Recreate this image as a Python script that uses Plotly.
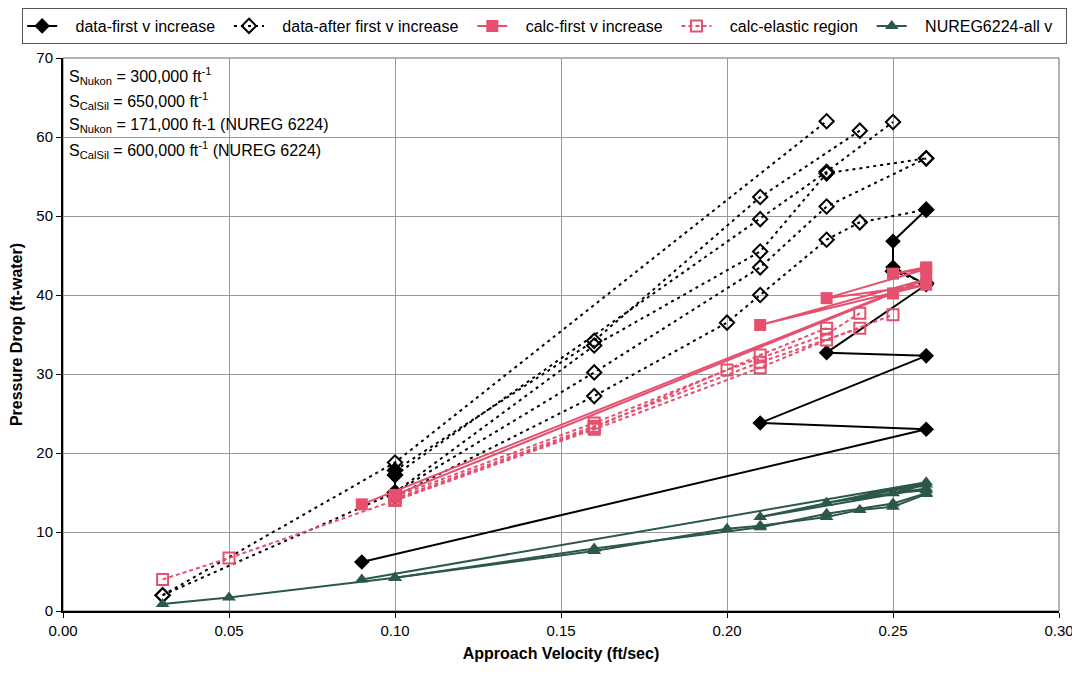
import plotly.graph_objects as go

# ---- data ----
# each series is a list of polylines (x list, y list)
first_x = [[0.09, 0.26, 0.21, 0.26, 0.23, 0.26, 0.25, 0.25, 0.26],
           [0.10, 0.10, 0.10]]
first_y = [[6.2, 23.0, 23.8, 32.3, 32.7, 41.3, 43.5, 46.8, 50.8],
           [15.0, 17.2, 17.8]]

after_x = [[0.03, 0.10, 0.23],
           [0.10, 0.16, 0.21, 0.24],
           [0.10, 0.21, 0.23, 0.25],
           [0.10, 0.16, 0.21, 0.23, 0.26],
           [0.03, 0.10, 0.16, 0.21, 0.23, 0.26],
           [0.10, 0.16, 0.20, 0.21, 0.23, 0.24, 0.26],
           [0.25, 0.26]]
after_y = [[2.0, 18.8, 62.0],
           [17.8, 34.2, 52.4, 60.8],
           [17.2, 49.6, 55.6, 61.9],
           [15.0, 33.6, 45.5, 55.4, 57.3],
           [2.0, 15.0, 30.2, 43.5, 51.2, 57.3],
           [14.5, 27.2, 36.5, 40.0, 47.0, 49.2, 50.8],
           [43.0, 41.5]]

calc_x = [[0.09, 0.26, 0.21, 0.26, 0.23, 0.26, 0.25, 0.26],
          [0.10, 0.25]]
calc_y = [[13.5, 42.0, 36.2, 41.3, 39.6, 43.3, 42.7, 43.5],
          [14.7, 40.2]]

elastic_x = [[0.03, 0.05, 0.10, 0.16, 0.21, 0.23, 0.25],
             [0.10, 0.16, 0.21, 0.24],
             [0.10, 0.16, 0.20, 0.23, 0.24],
             [0.10, 0.16, 0.21, 0.23]]
elastic_y = [[4.0, 6.7, 14.0, 23.0, 30.8, 34.3, 37.5],
             [14.2, 23.4, 31.5, 35.8],
             [14.5, 23.8, 30.5, 35.0, 37.7],
             [14.0, 23.2, 32.4, 35.8]]

nureg_x = [[0.09, 0.26, 0.21, 0.26, 0.23, 0.26, 0.25, 0.26],
           [0.03, 0.05, 0.10, 0.16, 0.20, 0.21, 0.23, 0.24, 0.25, 0.26],
           [0.10, 0.16, 0.21, 0.23, 0.25, 0.26]]
nureg_y = [[4.0, 16.3, 11.9, 15.5, 13.7, 16.0, 14.9, 15.3],
           [0.9, 1.7, 4.2, 7.6, 10.4, 10.8, 11.9, 12.8, 13.2, 14.8],
           [4.2, 7.9, 10.6, 12.3, 13.6, 14.9]]

notes = [
    "S<sub>Nukon</sub> = 300,000 ft<sup>-1</sup>",
    "S<sub>CalSil</sub> = 650,000 ft<sup>-1</sup>",
    "S<sub>Nukon</sub> = 171,000 ft-1 (NUREG 6224)",
    "S<sub>CalSil</sub> = 600,000 ft<sup>-1</sup> (NUREG 6224)",
]

RED = "#E4506E"
TEAL = "#2C574B"
FONT = "Liberation Sans, Arial, sans-serif"
NB = "\u00a0"   # pads legend entries so they spread like the original

# page body has an 8px margin, so the figure is 8px smaller each way
W, H = 1072, 668
ML, MR, MT, MB = 55, 21, 50, 65
PH = H - MT - MB


def add_series(fig, xs, ys, name, line, marker):
    for i, (x, y) in enumerate(zip(xs, ys)):
        fig.add_trace(go.Scatter(
            x=x, y=y, mode="lines+markers",
            name=NB * 3 + name + NB * 2,
            legendgroup=name, showlegend=(i == 0),
            line=line, marker=marker,
        ))


fig = go.Figure()
add_series(fig, first_x, first_y, "data-first v increase",
           dict(color="black", width=2),
           dict(symbol="diamond", size=12, color="black"))
add_series(fig, after_x, after_y, "data-after first v increase",
           dict(color="black", width=2, dash="3px,4px"),
           dict(symbol="diamond-open", size=11, color="black", line=dict(width=2)))
add_series(fig, calc_x, calc_y, "calc-first v increase",
           dict(color=RED, width=2),
           dict(symbol="square", size=12, color=RED))
add_series(fig, elastic_x, elastic_y, "calc-elastic region",
           dict(color=RED, width=2, dash="4px,3px"),
           dict(symbol="square-open", size=11, color=RED, line=dict(width=2)))
add_series(fig, nureg_x, nureg_y, "NUREG6224-all v",
           dict(color=TEAL, width=2),
           dict(symbol="triangle-up", size=12, color=TEAL))

for i, t in enumerate(notes):
    fig.add_annotation(
        text=t, xref="paper", yref="paper",
        x=0.004, y=1 - (18 + 24.5 * i) / PH,
        xanchor="left", yanchor="middle", showarrow=False,
        font=dict(family=FONT, size=16, color="black"),
    )

fig.update_layout(
    width=W, height=H,
    paper_bgcolor="white", plot_bgcolor="white",
    font=dict(family=FONT, size=15, color="black"),
    margin=dict(l=ML, r=MR, t=MT, b=MB, autoexpand=False),
    legend=dict(
        orientation="h", x=-0.041, y=1 + MT / PH, xanchor="left", yanchor="top",
        bordercolor="#555", borderwidth=1, bgcolor="white",
        font=dict(family=FONT, size=16),
        tracegroupgap=0,
    ),
)
fig.update_xaxes(
    range=[0, 0.30], dtick=0.05, tickformat=".2f",
    showgrid=True, gridcolor="#999", gridwidth=1,
    showline=True, linecolor="black", linewidth=2,
    ticks="outside", ticklen=5, tickcolor="black", zeroline=False,
    tickfont=dict(size=15),
    title=dict(text="<b>Approach Velocity (ft/sec)</b>", font=dict(size=16), standoff=10),
)
fig.update_yaxes(
    range=[0, 70], dtick=10,
    showgrid=True, gridcolor="#999", gridwidth=1,
    showline=True, linecolor="black", linewidth=2,
    ticks="outside", ticklen=5, tickcolor="black", zeroline=False,
    tickfont=dict(size=15),
    title=dict(text="<b>Pressure Drop (ft-water)</b>", font=dict(size=16), standoff=12),
)
# thin grey frame on top/right like the original plot area border
fig.add_shape(type="rect", xref="paper", yref="paper", x0=0, y0=0, x1=1, y1=1,
              line=dict(color="#666", width=1), layer="below")

fig.write_html("out.html")
